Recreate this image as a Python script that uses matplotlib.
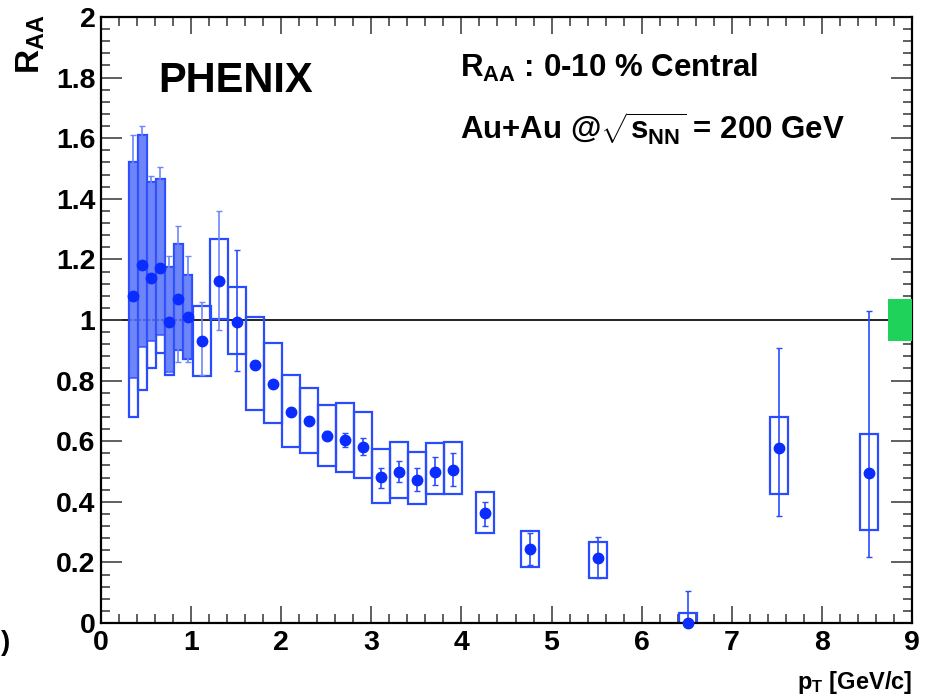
import numpy as np
import matplotlib.pyplot as plt
from matplotlib.patches import Rectangle
from matplotlib.ticker import MultipleLocator

plt.rcParams['font.family'] = ['Liberation Sans', 'DejaVu Sans']
plt.rcParams['font.weight'] = 'bold'
plt.rcParams['mathtext.fontset'] = 'custom'
plt.rcParams['mathtext.rm'] = 'Liberation Sans:bold'
plt.rcParams['mathtext.bf'] = 'Liberation Sans:bold'
plt.rcParams['mathtext.it'] = 'Liberation Sans:bold'

# low pT points: filled (shaded) systematic box plus an open box that reaches lower
pt_low = [0.36, 0.46, 0.56, 0.66, 0.76, 0.86, 0.96]
raa_low = [1.08, 1.18, 1.14, 1.17, 0.995, 1.07, 1.01]
stat_hi_low = [1.61, 1.64, 1.475, 1.505, 1.21, 1.31, 1.21]
stat_lo_low = [0.82, 0.92, 0.94, 0.96, 0.83, 0.86, 0.86]
fill_hi_low = [1.52, 1.61, 1.455, 1.465, 1.175, 1.25, 1.15]
fill_lo_low = [0.81, 0.91, 0.93, 0.95, 0.83, 0.90, 0.87]
open_lo_low = [0.68, 0.77, 0.84, 0.89, 0.82, 0.90, 0.87]

# remaining points with open systematic boxes
pt = [1.12, 1.31, 1.51, 1.71, 1.91, 2.11, 2.31, 2.51, 2.71, 2.91, 3.11,
      3.31, 3.51, 3.71, 3.91, 4.26, 4.76, 5.51, 6.51, 7.52, 8.52]
raa = [0.932, 1.13, 0.995, 0.853, 0.788, 0.697, 0.668, 0.618, 0.604, 0.582, 0.481,
       0.50, 0.472, 0.50, 0.505, 0.362, 0.244, 0.214, 0.0, 0.576, 0.496]
sys_hi = [1.046, 1.266, 1.11, 1.009, 0.925, 0.818, 0.775, 0.719, 0.725, 0.697, 0.575,
          0.598, 0.566, 0.595, 0.598, 0.433, 0.302, 0.268, 0.032, 0.681, 0.624]
sys_lo = [0.815, 1.002, 0.888, 0.703, 0.659, 0.582, 0.56, 0.519, 0.50, 0.48, 0.395,
          0.411, 0.393, 0.426, 0.426, 0.296, 0.186, 0.148, 0.0, 0.426, 0.307]
stat_hi = [1.06, 1.36, 1.231, 0.865, 0.80, 0.71, 0.68, 0.633, 0.626, 0.609, 0.513,
           0.535, 0.51, 0.547, 0.56, 0.40, 0.298, 0.283, 0.107, 0.907, 1.03]
stat_lo = [0.82, 0.967, 0.833, 0.843, 0.778, 0.687, 0.656, 0.603, 0.582, 0.555, 0.447,
           0.466, 0.437, 0.455, 0.453, 0.32, 0.19, 0.148, 0.0, 0.353, 0.217]

# global normalisation uncertainty
norm_lo, norm_hi = 0.93, 1.07

blue = '#0a2cff'
box_blue = '#2a4cff'
light_blue = '#6f85ff'

fig = plt.figure(figsize=(9.25, 7), dpi=100)
ax = fig.add_axes([101/925, 77/700, 811/925, 606/700])
ax.set_xlim(0, 9)
ax.set_ylim(0, 2)

ax.axhline(1.0, color='#222222', lw=1.4, zorder=1)

w_low = 0.095
for x, fh, fl, ol in zip(pt_low, fill_hi_low, fill_lo_low, open_lo_low):
    ax.add_patch(Rectangle((x - w_low/2, ol), w_low, fh - ol, fill=False,
                           ec=box_blue, lw=1.6, zorder=2))
    ax.add_patch(Rectangle((x - w_low/2, fl), w_low, fh - fl, fc='#5470f4',
                           ec=box_blue, lw=1.2, alpha=0.85, zorder=3))
ax.errorbar(pt_low, raa_low,
            yerr=[np.array(raa_low) - stat_lo_low, np.array(stat_hi_low) - raa_low],
            fmt='none', ecolor=light_blue, elinewidth=1.2, capsize=2.5, zorder=4)
ax.plot(pt_low, raa_low, 'o', color=blue, ms=7.5, zorder=5)

w = 0.2
for x, hi, lo in zip(pt, sys_hi, sys_lo):
    ax.add_patch(Rectangle((x - w/2, lo), w, hi - lo, fill=False,
                           ec=box_blue, lw=1.6, zorder=2))
pt_a = np.array(pt)
raa_a = np.array(raa)
err = np.array([raa_a - stat_lo, np.array(stat_hi) - raa_a])
first = pt_a < 1.4
ax.errorbar(pt_a[first], raa_a[first], yerr=err[:, first], fmt='none',
            ecolor=light_blue, elinewidth=1.2, capsize=2.5, zorder=4)
ax.errorbar(pt_a[~first], raa_a[~first], yerr=err[:, ~first], fmt='none',
            ecolor=box_blue, elinewidth=1.2, capsize=2.5, zorder=4)
ax.plot(pt, raa, 'o', color=blue, ms=7.5, zorder=5, clip_on=False)

ax.add_patch(Rectangle((8.73, norm_lo), 0.27, norm_hi - norm_lo,
                       fc='#1fd35a', ec='none', zorder=3))

# ROOT-like frame and ticks
for s in ax.spines.values():
    s.set_linewidth(1.6)
ax.set_xticks(np.arange(0, 10, 1))
ax.xaxis.set_minor_locator(MultipleLocator(0.2))
ax.set_yticks(np.arange(0, 2.01, 0.2))
ax.yaxis.set_minor_locator(MultipleLocator(0.04))
ax.tick_params(which='both', direction='in', top=True, right=True, width=1.2,
               color='#444444')
ax.tick_params(which='major', length=12)
ax.tick_params(which='minor', length=6.5)
ax.tick_params(axis='y', which='major', length=15)
ax.tick_params(axis='x', labelsize=20.5, pad=5)
ax.tick_params(axis='y', labelsize=20.5, pad=4)
ax.set_yticklabels(['0', '0.2', '0.4', '0.6', '0.8', '1', '1.2', '1.4', '1.6', '1.8', '2'])
ax.set_xticklabels([str(i) for i in range(10)])

fig.text(31/925, 1 - 14/700, r'$\mathbf{R_{AA}}$', rotation=90, ha='center',
         va='top', fontsize=24)
fig.text(912/925, 1 - 689/700, r'$\mathbf{p_{T}}$ [GeV/c]', ha='right',
         va='baseline', fontsize=17)
fig.text(0.5/925, 1 - 643/700, ')', ha='left', va='center', fontsize=20)

ax.text(0.64, 1.79, 'PHENIX', ha='left', va='center', fontsize=30)
ax.text(3.98, 1.803, r'$\mathbf{R_{AA}}$ : 0-10 % Central', ha='left',
        va='baseline', fontsize=22.5)
ax.text(3.98, 1.594, r'Au+Au @$\sqrt{\mathbf{s_{NN}}}$ = 200 GeV', ha='left',
        va='baseline', fontsize=22.5)

fig.savefig('out.png', dpi=100)
